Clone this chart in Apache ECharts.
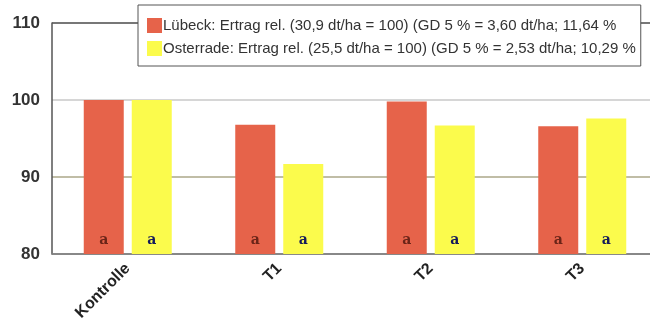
<!DOCTYPE html>
<html>
<head>
<meta charset="utf-8">
<script src="https://cdn.jsdelivr.net/npm/echarts@6/dist/echarts.min.js"></script>
<style>
html, body { margin: 0; padding: 0; background: #fff; }
#main { width: 650px; height: 321px; }
</style>
</head>
<body>
<div id="main"></div>
<script>
var categories = ['Kontrolle', 'T1', 'T2', 'T3'];
var luebeck = [100, 96.8, 99.8, 96.6];
var osterrade = [100, 91.7, 96.7, 97.6];
var luebeckLetters = ['a', 'a', 'a', 'a'];
var osterradeLetters = ['a', 'a', 'a', 'a'];
var yTicks = [80, 90, 100, 110];

var myChart = echarts.init(document.getElementById('main'));

function letterLabel(letters, color) {
    return {
        show: true,
        position: 'insideBottom',
        distance: 7,
        formatter: function (p) { return letters[p.dataIndex]; },
        color: color,
        fontFamily: 'DejaVu Serif',
        fontWeight: 'bold',
        fontSize: 14
    };
}

var option = {
    animation: false,
    backgroundColor: '#fff',
    grid: { left: 52, width: 606, top: 23, bottom: 67, outerBoundsMode: 'none', containLabel: false },
    legend: {
        orient: 'vertical',
        left: 138,
        top: 5,
        padding: [13, 5, 10, 9],
        itemGap: 8,
        itemWidth: 15,
        itemHeight: 15,
        borderColor: '#555',
        borderWidth: 1,
        backgroundColor: '#fff',
        icon: 'rect',
        textStyle: {
            fontFamily: 'Liberation Sans',
            fontSize: 15,
            color: '#333',
            padding: [0, 0, 0, -4]
        },
        data: [
            'Lübeck: Ertrag rel. (30,9 dt/ha = 100) (GD 5 % = 3,60 dt/ha; 11,64 %',
            'Osterrade: Ertrag rel. (25,5 dt/ha = 100) (GD 5 % = 2,53 dt/ha; 10,29 %'
        ]
    },
    xAxis: {
        type: 'category',
        data: categories,
        axisTick: { show: false },
        axisLine: { lineStyle: { color: '#888', width: 1.5 } },
        axisLabel: {
            rotate: 45,
            margin: 12,
            color: '#222',
            fontFamily: 'Liberation Sans',
            fontWeight: 'bold',
            fontSize: 16
        }
    },
    yAxis: {
        type: 'value',
        min: 80,
        max: 110,
        interval: 10,
        axisLine: { show: true, lineStyle: { color: '#555', width: 1.5 } },
        axisTick: { show: false },
        axisLabel: {
            margin: 12,
            color: '#333',
            fontFamily: 'Liberation Sans',
            fontWeight: 'bold',
            fontSize: 17,
            customValues: yTicks
        },
        splitLine: {
            show: true,
            lineStyle: { color: ['#888', '#c0bda6', '#d6d6d6', '#777'], width: 2 }
        }
    },
    series: [
        {
            name: 'Lübeck: Ertrag rel. (30,9 dt/ha = 100) (GD 5 % = 3,60 dt/ha; 11,64 %',
            type: 'bar',
            data: luebeck,
            barWidth: 40,
            barGap: '20%',
            itemStyle: { color: '#e6634a' },
            label: letterLabel(luebeckLetters, '#6a2418')
        },
        {
            name: 'Osterrade: Ertrag rel. (25,5 dt/ha = 100) (GD 5 % = 2,53 dt/ha; 10,29 %',
            type: 'bar',
            data: osterrade,
            barWidth: 40,
            itemStyle: { color: '#fbfb4c' },
            label: letterLabel(osterradeLetters, '#141a5a')
        }
    ]
};

option && myChart.setOption(option);
</script>
</body>
</html>
